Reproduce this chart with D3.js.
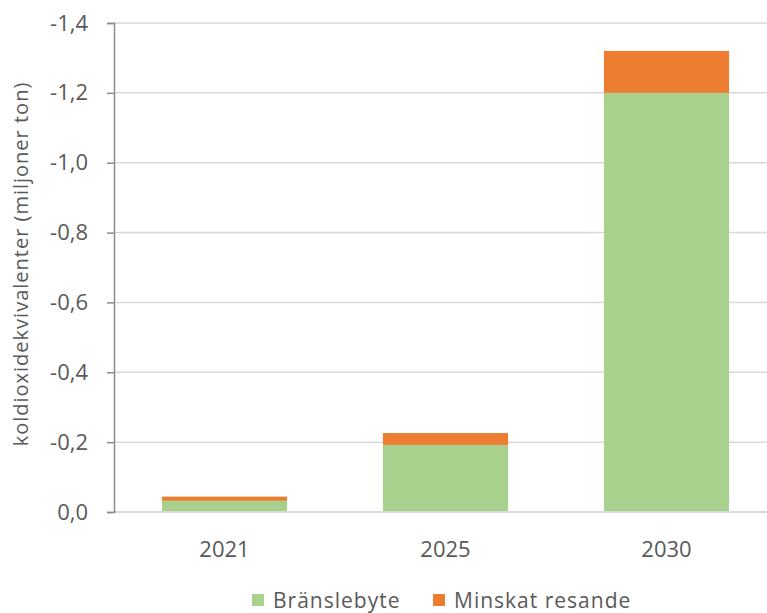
<!DOCTYPE html>
<html>
<head>
<meta charset="utf-8">
<script src="https://cdn.jsdelivr.net/npm/d3@7"></script>
<style>
  body { margin: 0; background: #fff; }
  svg text { font-family: "Open Sans", "Noto Sans", sans-serif; fill: #595959; }
</style>
</head>
<body>
<div id="chart"></div>
<script>
// years and values (miljoner ton, negative = reduction)
var years = ["2021", "2025", "2030"];
var bransle = [-0.032, -0.192, -1.2];
var minskat = [-0.012, -0.034, -0.12];
var seriesNames = ["Bränslebyte", "Minskat resande"];
var colors = ["#a9d18e", "#ed7d31"];
var yTicks = [0, -0.2, -0.4, -0.6, -0.8, -1.0, -1.2, -1.4];

var width = 767, height = 613;
var plotLeft = 114, plotRight = 777, plotTop = 23, plotBottom = 512;

var svg = d3.select('#chart').append('svg')
  .attr('width', width)
  .attr('height', height);

var rows = years.map(function(y, i) {
  return {year: y, b: bransle[i], m: minskat[i]};
});

var x = d3.scaleBand().domain(years).range([plotLeft, plotRight])
  .paddingInner(0.434).paddingOuter(0.217);
var y = d3.scaleLinear().domain([0, -1.4]).range([plotBottom, plotTop]);

var fmt = function(d) { return d3.format(".1f")(d).replace(".", ",").replace("−", "-"); };

// gridlines
svg.append("g").selectAll("line")
  .data(yTicks.slice(1))
  .enter().append("line")
  .attr("x1", plotLeft).attr("x2", width)
  .attr("y1", function(d) { return y(d); })
  .attr("y2", function(d) { return y(d); })
  .attr("stroke", "#d9d9d9")
  .attr("stroke-width", 1.5);

// bars
var stack = d3.stack().keys(["b", "m"]).offset(d3.stackOffsetDiverging);
var layers = stack(rows);

svg.append("g").selectAll("g")
  .data(layers)
  .enter().append("g")
  .attr("fill", function(d, i) { return colors[i]; })
  .selectAll("rect")
  .data(function(d) { return d; })
  .enter().append("rect")
  .attr("x", function(d) { return x(d.data.year); })
  .attr("width", x.bandwidth())
  .attr("y", function(d) { return Math.min(y(d[0]), y(d[1])); })
  .attr("height", function(d) { return Math.abs(y(d[0]) - y(d[1])); });

// x baseline
svg.append("line")
  .attr("x1", plotLeft).attr("x2", width)
  .attr("y1", plotBottom).attr("y2", plotBottom)
  .attr("stroke", "#d9d9d9")
  .attr("stroke-width", 2);

// y axis
var yAxis = svg.append("g")
  .attr("transform", "translate(" + plotLeft + ",0)")
  .call(d3.axisLeft(y).tickValues(yTicks).tickFormat(fmt).tickSize(7).tickPadding(19));
yAxis.select(".domain").attr("stroke", "#8c8c8c").attr("stroke-width", 1.5);
yAxis.selectAll(".tick line").attr("stroke", "#8c8c8c").attr("stroke-width", 1.5);
yAxis.selectAll(".tick text").style("font-size", "22px").attr("fill", "#595959");

// x labels
svg.append("g").selectAll("text")
  .data(years)
  .enter().append("text")
  .attr("x", function(d) { return x(d) + x.bandwidth() / 2; })
  .attr("y", 557)
  .attr("text-anchor", "middle")
  .style("font-size", "22px")
  .text(function(d) { return d; });

// y title
svg.append("text")
  .attr("transform", "translate(28,264) rotate(-90)")
  .attr("text-anchor", "middle")
  .style("font-size", "20px")
  .style("letter-spacing", "1px")
  .text("koldioxidekvivalenter (miljoner ton)");

// legend
var legendX = [252, 433];
var lg = svg.append("g").selectAll("g")
  .data(seriesNames)
  .enter().append("g")
  .attr("transform", function(d, i) { return "translate(" + legendX[i] + ",594)"; });
lg.append("rect")
  .attr("width", 12).attr("height", 12)
  .attr("fill", function(d, i) { return colors[i]; });
lg.append("text")
  .attr("x", 21).attr("y", 14)
  .style("font-size", "21px")
  .style("letter-spacing", "1px")
  .text(function(d) { return d; });
</script>
</body>
</html>
